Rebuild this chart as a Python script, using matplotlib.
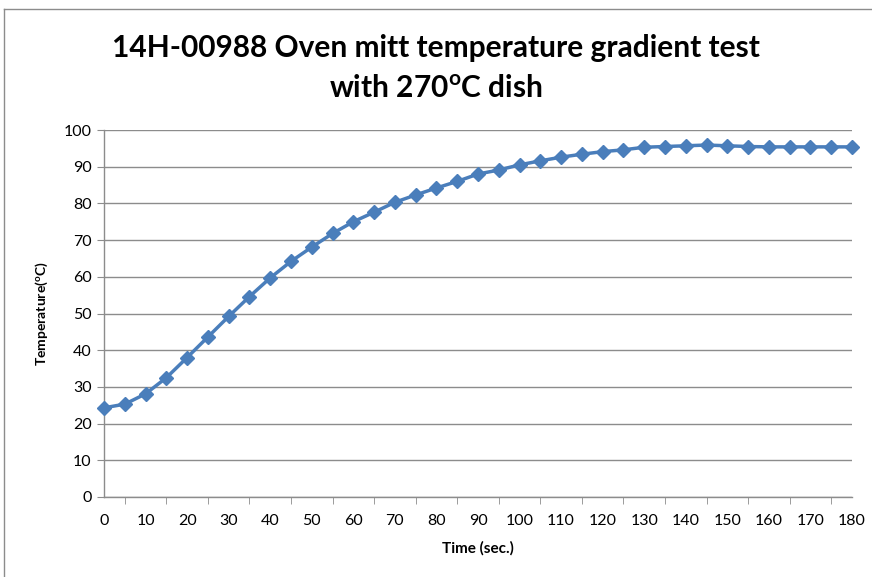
import matplotlib
matplotlib.use("Agg")
import matplotlib.pyplot as plt
from matplotlib.lines import Line2D

plt.rcParams['font.family'] = ['Lato', 'DejaVu Sans']

# time in seconds, temperature in degC
time_s = [0, 5, 10, 15, 20, 25, 30, 35, 40, 45, 50, 55, 60, 65, 70, 75, 80, 85, 90,
          95, 100, 105, 110, 115, 120, 125, 130, 135, 140, 145, 150, 155, 160, 165,
          170, 175, 180]
temp_c = [24.3, 25.3, 28.1, 32.5, 38.0, 43.6, 49.2, 54.6, 59.7, 64.2, 68.1, 71.8, 75.0,
          77.6, 80.3, 82.3, 84.2, 86.0, 88.0, 89.1, 90.5, 91.6, 92.6, 93.4, 94.1, 94.6,
          95.3, 95.5, 95.7, 95.9, 95.7, 95.5, 95.4, 95.4, 95.4, 95.4, 95.4]
x_ticks = list(range(0, 181, 10))
y_ticks = list(range(0, 101, 10))

fig = plt.figure(figsize=(8.72, 5.77), dpi=100)
ax = fig.add_axes([104 / 872, 1 - 497 / 577, 748 / 872, 367 / 577])

ax.plot(time_s, temp_c, color="#4a7ebb", lw=2.5, marker="D", ms=7.5,
        markeredgecolor="#4a7ebb", zorder=3, clip_on=False)

ax.set_xlim(0, 180)
ax.set_ylim(0, 100)
ax.set_xticks(x_ticks)
ax.set_xticks(time_s, minor=True)
ax.set_yticks(y_ticks)
ax.yaxis.grid(True, color="#8c8c8c", lw=1)
ax.set_axisbelow(True)
for s in ["top", "right"]:
    ax.spines[s].set_visible(False)
for s in ["left", "bottom"]:
    ax.spines[s].set_color("#8c8c8c")
    ax.spines[s].set_linewidth(1)
ax.tick_params(axis="x", which="both", length=5, color="#8c8c8c", labelsize=11.5)
ax.tick_params(axis="x", which="major", length=0, pad=12)
ax.tick_params(axis="y", length=5, color="#8c8c8c", labelsize=11.5, pad=4)

ax.set_xlabel("Time (sec.)", fontsize=11, fontweight="bold", labelpad=10)
ax.set_ylabel("Temperature($\\mathregular{^{o}}$C)", fontsize=10, fontweight="bold", labelpad=10)

fig.text(0.5, 0.917, "14H-00988 Oven mitt temperature gradient test",
         ha="center", va="center", fontsize=21.5, fontweight="bold")
fig.text(0.5, 0.848, "with 270$\\mathregular{^{o}}$C dish",
         ha="center", va="center", fontsize=21.5, fontweight="bold")

# chart area border (left and top edges visible)
fig.add_artist(Line2D([4 / 872, 4 / 872], [0, 1 - 9 / 577], transform=fig.transFigure,
                      color="#8c8c8c", lw=1))
fig.add_artist(Line2D([4 / 872, 1], [1 - 9 / 577, 1 - 9 / 577], transform=fig.transFigure,
                      color="#8c8c8c", lw=1))

fig.savefig("out.png", dpi=100)
